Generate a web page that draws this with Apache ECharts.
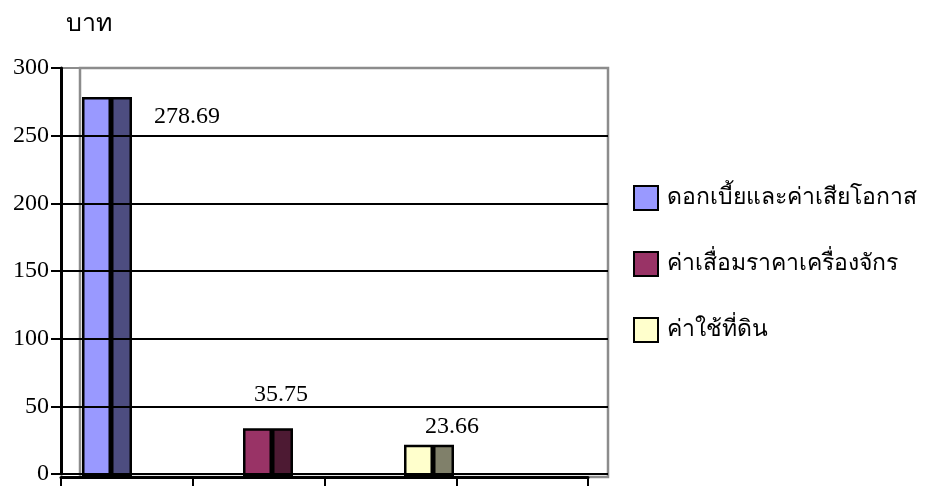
<!DOCTYPE html>
<html>
<head>
<meta charset="utf-8">
<script src="https://cdn.jsdelivr.net/npm/echarts@6/dist/echarts.min.js"></script>
<style>
  html, body { margin: 0; padding: 0; background: #fff; }
  #chart { width: 925px; height: 486px; }
</style>
</head>
<body>
<div id="chart"></div>
<script>
// Cost items (Thai) and their values in baht
const costNames = ['ดอกเบี้ยและค่าเสียโอกาส', 'ค่าเสื่อมราคาเครื่องจักร', 'ค่าใช้ที่ดิน'];
const costValues = [278.69, 35.75, 23.66];
const unitLabel = 'บาท';
const yMin = 0;
const yMax = 300;
const yStep = 50;
const axisSlots = ['', '', '', ''];

// Face colours: light front face and darker side face for each column
const frontColors = ['#9999FF', '#993366', '#FFFFCC'];
const sideColors = ['#4D4D80', '#4D1A33', '#80806A'];
const labelPos = [[76, 20], [9, -34], [19, -18]];

const FONT = "'Liberation Serif', 'Times New Roman', serif";

const chart = echarts.init(document.getElementById('chart'));

// One value per category, the rest left empty, so each item has its own series
function onlyAt(i) {
  return costValues.map((v, j) => (j === i ? v : '-'));
}

const series = [];
costNames.forEach((name, i) => {
  series.push({
    name: name,
    type: 'bar',
    xAxisIndex: 2,
    yAxisIndex: 2,
    stack: 'front',
    barWidth: 29,
    barGap: '0%',
    data: onlyAt(i),
    itemStyle: { color: frontColors[i], borderColor: '#000', borderWidth: 2.5 },
    z: 5
  });
});
costNames.forEach((name, i) => {
  series.push({
    name: name + ' (side)',
    type: 'bar',
    xAxisIndex: 2,
    yAxisIndex: 2,
    stack: 'side',
    barWidth: 21,
    barGap: '0%',
    data: onlyAt(i),
    itemStyle: { color: sideColors[i], borderColor: '#000', borderWidth: 2.5 },
    label: {
      show: true,
      position: labelPos[i],
      align: 'center',
      verticalAlign: 'middle',
      fontFamily: FONT,
      fontSize: 24,
      color: '#000',
      formatter: p => String(costValues[i])
    },
    z: 5
  });
});

chart.setOption({
  animation: false,
  backgroundColor: '#fff',
  title: {
    text: unitLabel,
    left: 66,
    top: 12,
    padding: 0,
    textStyle: { fontFamily: FONT, fontSize: 25, fontWeight: 'normal', color: '#000' }
  },
  legend: {
    orient: 'vertical',
    left: 633,
    top: 185,
    padding: 0,
    icon: 'rect',
    itemWidth: 24,
    itemHeight: 24,
    itemGap: 40,
    data: costNames,
    selectedMode: false,
    textStyle: {
      fontFamily: FONT,
      fontSize: 23,
      lineHeight: 24,
      color: '#000',
      padding: [0, 0, 0, 4]
    }
  },
  grid: [
    // value grid: y axis, horizontal grid lines and the outer outline
    { left: 61, right: 317, top: 68, bottom: 9, show: true, borderColor: '#8C8C8C', borderWidth: 2 },
    // category axis along the front edge
    { left: 61, right: 337, top: 68, bottom: 9 },
    // columns
    { left: 26.5, right: 415.5, top: 68, bottom: 9 },
    // back wall outline
    { left: 80, right: 317, top: 68, bottom: 9, show: true, borderColor: '#8C8C8C', borderWidth: 2.5 }
  ],
  xAxis: [
    { gridIndex: 0, type: 'category', data: axisSlots, show: false },
    {
      gridIndex: 1,
      type: 'category',
      data: axisSlots,
      axisLine: { lineStyle: { color: '#000', width: 3 } },
      axisTick: { show: true, length: 9, lineStyle: { color: '#000', width: 2 } },
      axisLabel: { show: false },
      z: 10
    },
    { gridIndex: 2, type: 'category', data: costNames, show: false },
    { gridIndex: 3, type: 'category', data: axisSlots, show: false }
  ],
  yAxis: [
    {
      gridIndex: 0,
      type: 'value',
      min: yMin,
      max: yMax,
      interval: yStep,
      axisLine: { show: true, lineStyle: { color: '#000', width: 3 } },
      axisTick: { show: true, length: 10, lineStyle: { color: '#000', width: 2 } },
      axisLabel: { fontFamily: FONT, fontSize: 24, color: '#000', margin: 12 },
      splitLine: { show: true, showMaxLine: false, lineStyle: { color: '#000', width: 2 } },
      z: 10
    },
    { gridIndex: 1, type: 'value', min: yMin, max: yMax, show: false },
    { gridIndex: 2, type: 'value', min: yMin, max: yMax, show: false },
    { gridIndex: 3, type: 'value', min: yMin, max: yMax, show: false }
  ],
  series: series
});
</script>
</body>
</html>
